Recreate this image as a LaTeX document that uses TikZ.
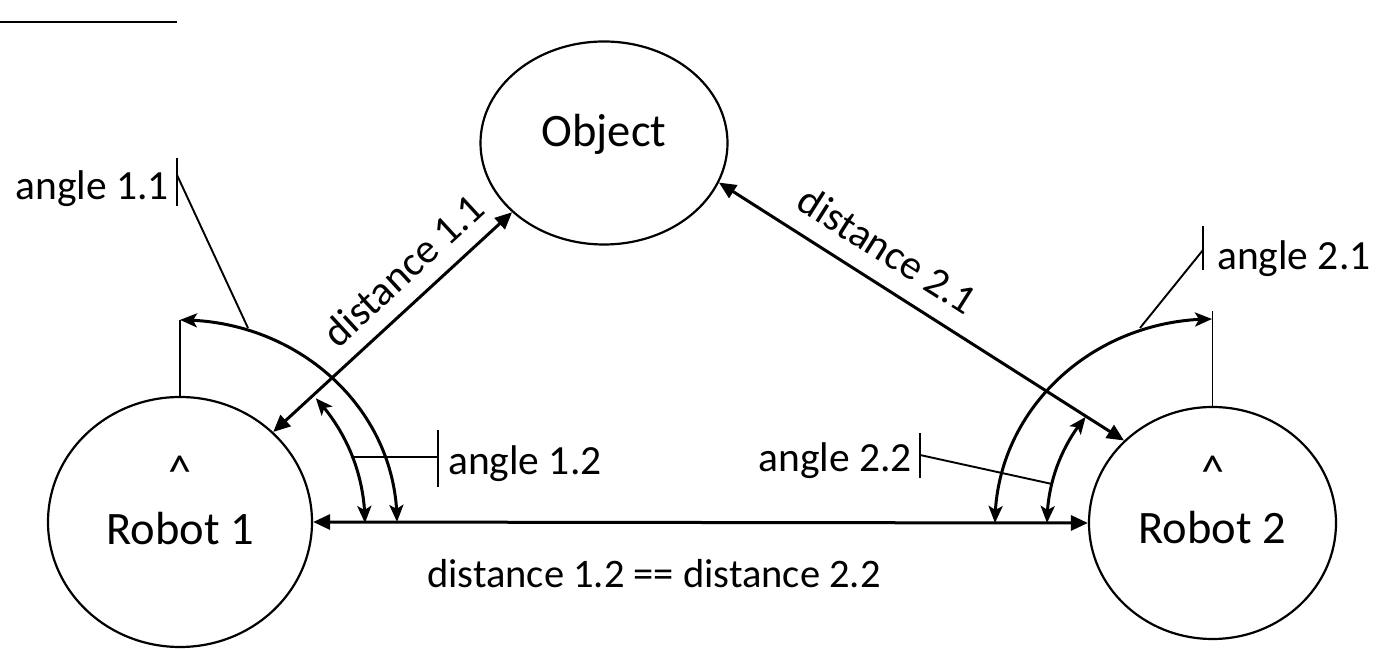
\documentclass[tikz,border=0pt]{standalone}
\usepackage{fontspec}
\setmainfont{Carlito}
\usetikzlibrary{arrows.meta,shapes.geometric,bending}
\begin{document}
\begin{tikzpicture}[x=1pt,y=1pt,
  blob/.style={draw,ellipse,line width=2.2pt,inner sep=0pt},
  nodetext/.style={font=\fontsize{46.5}{56}\selectfont,inner sep=0pt},
  lab/.style={font=\fontsize{41.5}{50}\selectfont,inner sep=0pt},
  dist/.style={line width=3pt,{Triangle[length=17pt,width=15pt]}-{Triangle[length=17pt,width=15pt]}},
  ang/.style={line width=3pt,{Stealth[length=17pt,width=14pt,inset=4pt]}-{Stealth[length=17pt,width=14pt,inset=4pt]}},
  lead/.style={line width=1.9pt}]
\useasboundingbox (0,0) rectangle (1376,648);

% top-left rule
\coordinate (tl1) at (0,626);
\coordinate (tl2) at (177,626);
\draw[line width=2.6pt] (tl1) -- (tl2);

% shapes
\node[blob,minimum width=264pt,minimum height=250pt] (r1) at (180,126) {};
\node[blob,minimum width=247pt,minimum height=232pt] (r2) at (1212.5,125) {};
\node[blob,minimum width=247pt,minimum height=203pt] (obj) at (604,505) {};

\node[nodetext,anchor=base] (r1c) at (180,160) {\textasciicircum};
\node[nodetext,anchor=base] (r1t) at (180,103) {Robot 1};
\node[nodetext,anchor=base] (r2c) at (1213,160) {\textasciicircum};
\node[nodetext,anchor=base] (r2t) at (1212,104) {Robot 2};
\node[nodetext,anchor=base] (objt) at (604,501) {Object};

% distances
\draw[dist] (r1.44) -- (obj.217);
\draw[dist] (obj.341) -- (r2.137);
\draw[dist] (r1.east) -- (r2.west);

\node[lab,rotate=42.7] (d11) at (403,378) {distance 1.1};
\node[lab,rotate=-32.4] (d21) at (888,398) {distance 2.1};
\node[lab,anchor=base,font=\fontsize{40.5}{48}\selectfont] (d12) at (654,60) {distance 1.2 == distance 2.2};

% robot 1 angles
\draw[lead] (r1.north) -- ++(0,76) coordinate (n1);
\draw[ang] (n1) arc[start angle=90,end angle=0,x radius=217,y radius=202];
\coordinate (i1) at (315.8,249.8);
\draw[ang] (i1) arc[start angle=43,end angle=0,radius=183];

% robot 2 angles
\draw[lead] (r2.north) -- ++(0,95) coordinate (n2);
\coordinate (o2) at (995,125);
\draw[ang] (o2) arc[start angle=180,end angle=90,x radius=217,y radius=204];
\coordinate (i2) at (1047,125);
\draw[ang] (i2) arc[start angle=180,end angle=140,radius=165];

% angle labels with callouts
\node[lab,anchor=base east] (a11) at (169,448) {angle 1.1};
\coordinate (p11) at (248,320);
\draw[lead] ([xshift=8pt,yshift=-6pt]a11.base east) -- ++(0,48);
\draw[lead] ([xshift=8pt,yshift=25pt]a11.base east) -- (p11);

\node[lab,anchor=base west] (a12) at (448,173) {angle 1.2};
\coordinate (p12) at (351,191);
\draw[lead] ([xshift=-10pt,yshift=-12pt]a12.base west) -- ++(0,57);
\draw[lead] ([xshift=-10pt,yshift=18pt]a12.base west) -- (p12);

\node[lab,anchor=base east] (a22) at (912,176) {angle 2.2};
\coordinate (p22) at (1052,164);
\draw[lead] ([xshift=8pt,yshift=-6pt]a22.base east) -- ++(0,45);
\draw[lead] ([xshift=8pt,yshift=17pt]a22.base east) -- (p22);

\node[lab,anchor=base west] (a21) at (1217,378) {angle 2.1};
\coordinate (p21) at (1140,320);
\draw[lead] ([xshift=-14pt]a21.base west) -- ++(0,44);
\draw[lead] ([xshift=-14pt,yshift=20pt]a21.base west) -- (p21);
\end{tikzpicture}
\end{document}
